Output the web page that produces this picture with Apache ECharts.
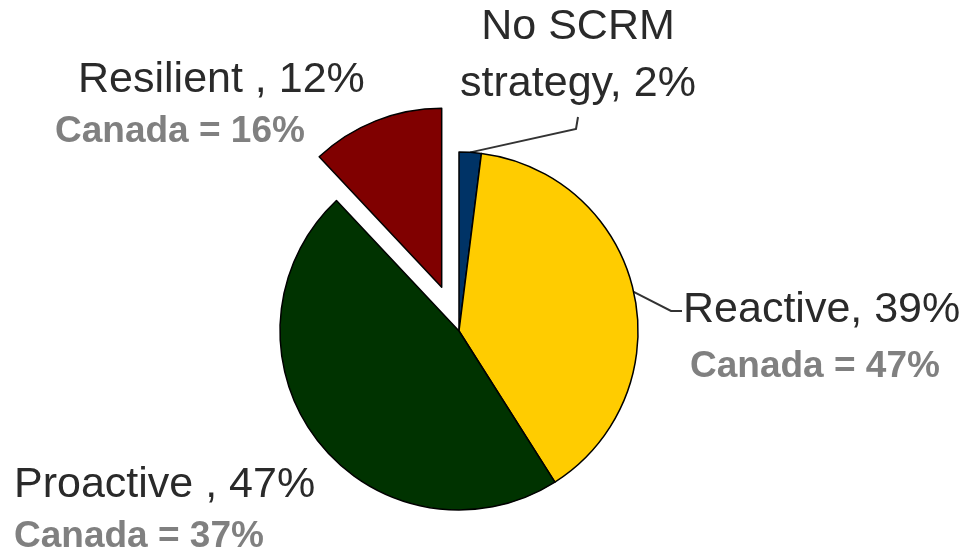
<!DOCTYPE html>
<html>
<head>
<meta charset="utf-8">
<script src="https://cdn.jsdelivr.net/npm/echarts@6/dist/echarts.min.js"></script>
<style>
  html, body { margin: 0; padding: 0; background: #fff; }
  #pie_chart { width: 963px; height: 552px; }
</style>
</head>
<body>
<div id="pie_chart"></div>
<script>
// 数据
var categories = ['No SCRM\nstrategy', 'Reactive', 'Proactive ', 'Resilient '];
var shares = [2, 39, 47, 12];
var canadaShares = [null, 47, 37, 16];
var sliceColors = ['#003366', '#FFCC00', '#003300', '#800000'];
var explodedIdx = 3;

// label positions (x, y = line centre, align), line attach side
var nameLabelPos = [
    {x: 578, y: 56, align: 'center', attach: 'bottom'},
    {x: 683, y: 310, align: 'left', attach: 'left'},
    {x: 14, y: 485, align: 'left'},
    {x: 78, y: 80, align: 'left'}
];
var canadaLabelPos = [
    null,
    {x: 690, y: 367, align: 'left'},
    {x: 14, y: 537, align: 'left'},
    {x: 55, y: 132, align: 'left'}
];

var pieCenter = [459, 331];
var pieRadius = 179;
var explodeOffset = 47;

// centre of the pulled-out slice, moved along its mid angle
var total = 0;
var before = 0;
for (let i = 0; i < shares.length; i++) {
    if (i < explodedIdx) before += shares[i];
    total += shares[i];
}
var midAngle = (90 - 360 * (before + shares[explodedIdx] / 2) / total) * Math.PI / 180;
var explodedCenter = [
    pieCenter[0] + explodeOffset * Math.cos(midAngle),
    pieCenter[1] - explodeOffset * Math.sin(midAngle)
];

var clearItem = {color: 'rgba(0,0,0,0)', borderWidth: 0};
var pieData = [];
var explodedData = [];
var canadaData = [];
for (let i = 0; i < categories.length; i++) {
    pieData.push({
        name: categories[i],
        value: shares[i],
        itemStyle: i === explodedIdx ? clearItem : {color: sliceColors[i]},
        labelLine: {show: nameLabelPos[i].attach != null}
    });
    explodedData.push({
        name: categories[i],
        value: shares[i],
        itemStyle: i === explodedIdx ? {color: sliceColors[i]} : clearItem
    });
    canadaData.push({
        name: categories[i],
        value: shares[i],
        label: {show: canadaShares[i] != null}
    });
}

function placeLabel(list) {
    return function (params) {
        let p = list[params.dataIndex];
        if (!p) {
            return {};
        }
        let res = {x: p.x, y: p.y, align: p.align, verticalAlign: 'middle'};
        if (p.attach && params.labelLinePoints) {
            let w = params.labelRect.width;
            let h = params.labelRect.height;
            let left = p.align === 'center' ? p.x - w / 2 : p.x;
            let start = params.labelLinePoints[0];
            let end, kink;
            if (p.attach === 'bottom') {
                end = [left + w / 2, p.y + h / 2 + 4];
                kink = [end[0] - 2, end[1] + 12];
            } else {
                end = [left - 1, p.y + 1];
                kink = [end[0] - 11, end[1]];
            }
            res.labelLinePoints = [start, kink, end];
        }
        return res;
    };
}

var textFont = 'Liberation Sans, Arial, sans-serif';

var pie_option = {
    animation: false,
    backgroundColor: '#fff',
    series: [
        {
            name: 'SCRM',
            type: 'pie',
            center: pieCenter,
            radius: pieRadius,
            startAngle: 90,
            clockwise: true,
            selectedMode: false,
            avoidLabelOverlap: false,
            itemStyle: {
                borderColor: '#000',
                borderWidth: 1.5
            },
            emphasis: {scale: false},
            label: {
                show: true,
                position: 'outside',
                fontFamily: textFont,
                fontSize: 43,
                lineHeight: 57,
                color: '#2a2a2a',
                formatter: function (p) {
                    return p.name + ', ' + p.value + '%';
                }
            },
            labelLine: {
                length: 10,
                length2: 11,
                minTurnAngle: 0,
                lineStyle: {color: '#333', width: 2}
            },
            labelLayout: placeLabel(nameLabelPos),
            data: pieData
        },
        {
            name: 'Exploded',
            type: 'pie',
            silent: true,
            center: explodedCenter,
            radius: pieRadius,
            startAngle: 90,
            clockwise: true,
            itemStyle: {
                borderColor: '#000',
                borderWidth: 1.5
            },
            label: {show: false},
            labelLine: {show: false},
            data: explodedData
        },
        {
            name: 'Canada',
            type: 'pie',
            silent: true,
            center: pieCenter,
            radius: pieRadius,
            startAngle: 90,
            avoidLabelOverlap: false,
            itemStyle: clearItem,
            label: {
                position: 'outside',
                fontFamily: textFont,
                fontSize: 37,
                fontWeight: 'bold',
                color: '#808080',
                formatter: function (p) {
                    return 'Canada = ' + canadaShares[p.dataIndex] + '%';
                }
            },
            labelLine: {show: false},
            labelLayout: placeLabel(canadaLabelPos),
            data: canadaData
        }
    ]
};

var pie_echarts = echarts.init(document.getElementById('pie_chart'), null, {renderer: 'canvas'});
pie_echarts.setOption(pie_option);
</script>
</body>
</html>
